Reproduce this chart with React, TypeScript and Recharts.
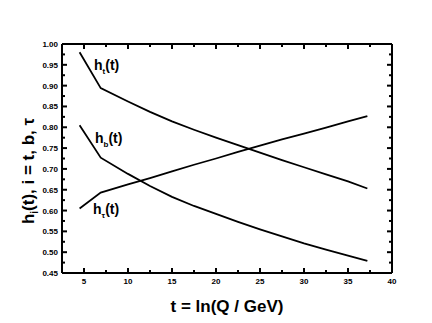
import React from "react";
import { LineChart, Line, XAxis, YAxis } from "recharts";

// t = ln(Q / GeV) sample points and the three couplings
const tValues = [4.5, 6.9, 10, 12.5, 15, 17.5, 20, 22.5, 25, 27.5, 30, 32.5, 35, 37.2];
const htValues = [0.98, 0.894, 0.862, 0.837, 0.814, 0.794, 0.775, 0.757, 0.739, 0.721, 0.704, 0.687, 0.67, 0.653];
const hbValues = [0.805, 0.727, 0.688, 0.659, 0.633, 0.611, 0.592, 0.573, 0.555, 0.538, 0.521, 0.506, 0.492, 0.479];
const htauValues = [0.605, 0.643, 0.663, 0.678, 0.694, 0.71, 0.725, 0.741, 0.756, 0.771, 0.785, 0.799, 0.814, 0.827];

const xTicks = [2.5, 5, 7.5, 10, 12.5, 15, 17.5, 20, 22.5, 25, 27.5, 30, 32.5, 35, 37.5, 40];
const yTicks = [
  0.45, 0.475, 0.5, 0.525, 0.55, 0.575, 0.6, 0.625, 0.65, 0.675, 0.7, 0.725, 0.75,
  0.775, 0.8, 0.825, 0.85, 0.875, 0.9, 0.925, 0.95, 0.975, 1.0,
];

const data = tValues.map((t, i) => ({
  t,
  ht: htValues[i],
  hb: hbValues[i],
  htau: htauValues[i],
}));

const FONT = "'Liberation Sans', Arial, sans-serif";
const W = 432;
const H = 323;

const isMajorX = (v: number) => Math.abs(v / 5 - Math.round(v / 5)) < 1e-6;
const isMajorY = (v: number) => Math.abs(v / 0.05 - Math.round(v / 0.05)) < 1e-6;

const tickText = { fontSize: 8, fontWeight: "bold" as const, fontFamily: FONT, fill: "#000" };
const TICK_W = 2;

// inward ticks, minor ones shorter, labels only on the major ones
function LeftTick({ x, y, payload }: any) {
  const major = isMajorY(payload.value);
  return (
    <g>
      <line x1={x} x2={x + (major ? 5 : 3)} y1={y} y2={y} stroke="#000" strokeWidth={TICK_W} />
      {major && (
        <text x={x - 4} y={y + 3} textAnchor="end" {...tickText}>
          {payload.value.toFixed(2)}
        </text>
      )}
    </g>
  );
}

function RightTick({ x, y, payload }: any) {
  const major = isMajorY(payload.value);
  return <line x1={x} x2={x - (major ? 5 : 3)} y1={y} y2={y} stroke="#000" strokeWidth={TICK_W} />;
}

function BottomTick({ x, y, payload }: any) {
  const major = isMajorX(payload.value);
  return (
    <g>
      <line x1={x} x2={x} y1={y} y2={y - (major ? 5 : 3)} stroke="#000" strokeWidth={TICK_W} />
      {major && (
        <text x={x} y={y + 11} textAnchor="middle" {...tickText}>
          {payload.value}
        </text>
      )}
    </g>
  );
}

function TopTick({ x, y, payload }: any) {
  const major = isMajorX(payload.value);
  return <line x1={x} x2={x} y1={y} y2={y + (major ? 5 : 3)} stroke="#000" strokeWidth={TICK_W} />;
}

const frame = { stroke: "#000", strokeWidth: 2 };

export default function App() {
  return (
    <div style={{ position: "absolute", left: 0, top: 0, width: W, height: H, background: "#fff" }}>
      <LineChart width={W} height={H} data={data} margin={{ top: 43, right: 39, bottom: 49, left: 61 }}>
        <XAxis
          dataKey="t"
          type="number"
          domain={[2.5, 40]}
          ticks={xTicks}
          interval={0}
          allowDataOverflow
          height={1}
          tickSize={0}
          tickMargin={0}
          tickLine={false}
          axisLine={frame}
          tick={<BottomTick />}
        />
        <XAxis
          xAxisId="top"
          orientation="top"
          dataKey="t"
          type="number"
          domain={[2.5, 40]}
          ticks={xTicks}
          interval={0}
          allowDataOverflow
          height={1}
          tickSize={0}
          tickMargin={0}
          tickLine={false}
          axisLine={frame}
          tick={<TopTick />}
        />
        <YAxis
          type="number"
          domain={[0.45, 1.0]}
          ticks={yTicks}
          interval={0}
          allowDataOverflow
          width={1}
          tickSize={0}
          tickMargin={0}
          tickLine={false}
          axisLine={frame}
          tick={<LeftTick />}
        />
        <YAxis
          yAxisId="right"
          orientation="right"
          type="number"
          domain={[0.45, 1.0]}
          ticks={yTicks}
          interval={0}
          allowDataOverflow
          width={1}
          tickSize={0}
          tickMargin={0}
          tickLine={false}
          axisLine={frame}
          tick={<RightTick />}
        />
        <Line dataKey="ht" type="linear" stroke="#000" strokeWidth={1.8} dot={false} isAnimationActive={false} />
        <Line dataKey="hb" type="linear" stroke="#000" strokeWidth={1.8} dot={false} isAnimationActive={false} />
        <Line dataKey="htau" type="linear" stroke="#000" strokeWidth={1.8} dot={false} isAnimationActive={false} />
      </LineChart>
      <svg
        width={W}
        height={H}
        style={{ position: "absolute", left: 0, top: 0, pointerEvents: "none" }}
        fontFamily={FONT}
        fontWeight="bold"
      >
        <text x={94} y={70} fontSize={14}>
          h<tspan fontSize={8} dy={4}>t</tspan>
          <tspan dy={-4}>(t)</tspan>
        </text>
        <text x={95} y={143} fontSize={14}>
          h<tspan fontSize={8} dy={4}>b</tspan>
          <tspan dy={-4}>(t)</tspan>
        </text>
        <text x={93} y={214} fontSize={14}>
          h<tspan fontSize={8} dy={4}>τ</tspan>
          <tspan dy={-4}>(t)</tspan>
        </text>
        <text x={227} y={312} fontSize={17} textAnchor="middle">
          t = ln(Q / GeV)
        </text>
        <text x={34} y={171} fontSize={17} textAnchor="middle" transform="rotate(-90 34 171)">
          h<tspan fontSize={10} dy={4}>i</tspan>
          <tspan dy={-4}>(t), i = t, b, τ</tspan>
        </text>
      </svg>
    </div>
  );
}
